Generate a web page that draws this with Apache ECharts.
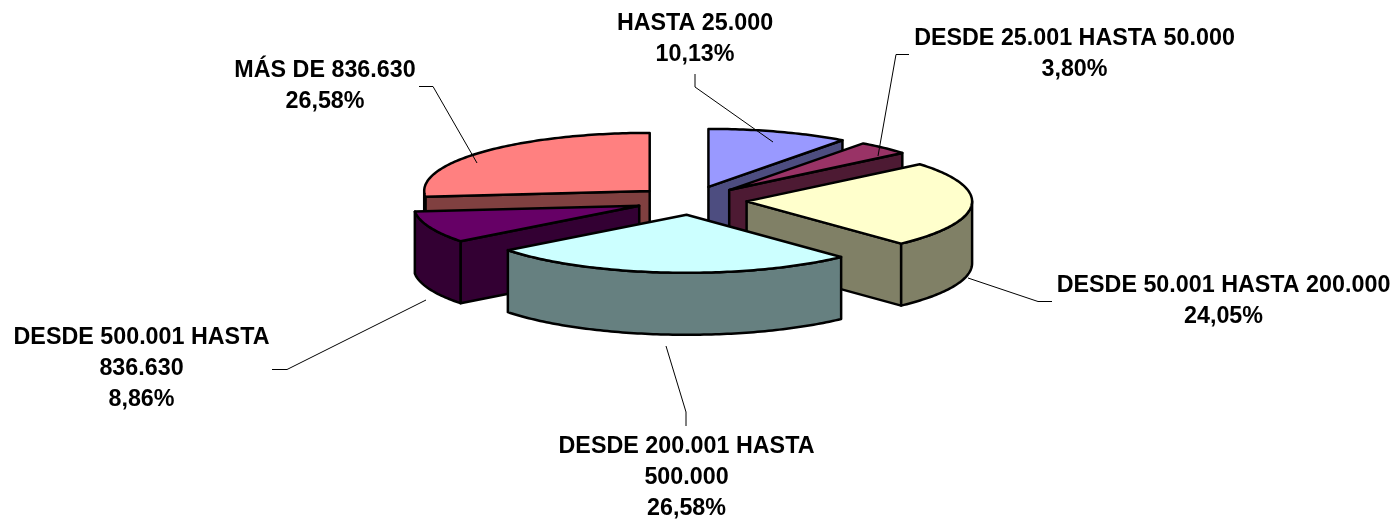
<!DOCTYPE html>
<html>
<head>
<meta charset="utf-8">
<style>
  html, body { margin: 0; padding: 0; background: #fff; }
  #chart { width: 1397px; height: 519px; }
</style>
</head>
<body>
<div id="chart"></div>
<script src="https://cdn.jsdelivr.net/npm/echarts@6/dist/echarts.min.js"></script>
<script>
const categories = [
  'HASTA 25.000',
  'DESDE 25.001 HASTA 50.000',
  'DESDE 50.001 HASTA 200.000',
  'DESDE 200.001 HASTA\n500.000',
  'DESDE 500.001 HASTA\n836.630',
  'MÁS DE 836.630'
]
const shares = [10.13, 3.80, 24.05, 26.58, 8.86, 26.58]
const topColors = ['#9999FF', '#993366', '#FFFFCC', '#CCFFFF', '#660066', '#FF8080']
const wallColors = ['#4D4D80', '#4D1A33', '#808066', '#668080', '#330033', '#804040']

// back to front
const paintOrder = [0, 1, 5, 4, 2, 3]

// label centre x, first line y, and leader line for each slice
const labelX = [695, 1074.5, 1223.5, 686.5, 141.5, 325]
const labelY = [23.5, 38.5, 285.5, 447, 338, 70.5]
const leaders = [
  [[695, 74], [695, 87], [773, 142]],
  [[909, 54.5], [896, 54.5], [878, 156]],
  [[1052, 301.5], [1038, 301.5], [968, 278]],
  [[686, 426], [686, 412], [666, 346]],
  [[272, 369.5], [287, 369.5], [426, 300]],
  [[419, 86.5], [433, 86.5], [477, 163]]
]

// pie geometry in pixels
const cx = 691
const cy = 200.5
const rx = 225.5
const ry = 58
const depth = 62
const explode = 0.247
const lineHeight = 31

const toRad = (deg) => deg * Math.PI / 180

let running = 0
const sliceAngles = shares.map((v) => {
  const start = running
  running += v
  return [start * 3.6, running * 3.6]
})

const pointAt = (ax, ay, deg, drop) => [
  ax + rx * Math.sin(toRad(deg)),
  ay - ry * Math.cos(toRad(deg)) + drop
]

const arcPoints = (ax, ay, from, to, drop) => {
  const pts = []
  const steps = Math.max(2, Math.ceil(Math.abs(to - from)))
  for (let i = 0; i <= steps; i++) {
    pts.push(pointAt(ax, ay, from + (to - from) * i / steps, drop))
  }
  return pts
}

const outline = { stroke: '#000', lineWidth: 2.5, lineJoin: 'round' }

const renderSlice = (params, api) => {
  const idx = api.value(0)
  const start = api.value(1)
  const end = api.value(2)
  const mid = toRad((start + end) / 2)
  const ax = cx + explode * rx * Math.sin(mid)
  const ay = cy - explode * ry * Math.cos(mid)
  const wallStyle = Object.assign({ fill: wallColors[idx] }, outline)
  const children = []

  const radialWall = (deg) => {
    const p = pointAt(ax, ay, deg, 0)
    const q = pointAt(ax, ay, deg, depth)
    children.push({
      type: 'polygon',
      shape: { points: [[ax, ay], p, q, [ax, ay + depth]] },
      style: wallStyle
    })
  }
  if (Math.sin(toRad(start)) < -0.001) radialWall(start)
  if (Math.sin(toRad(end)) > 0.001) radialWall(end)

  const wallFrom = Math.max(start, 90)
  const wallTo = Math.min(end, 270)
  if (wallTo > wallFrom) {
    const upper = arcPoints(ax, ay, wallFrom, wallTo, 0)
    const lower = arcPoints(ax, ay, wallTo, wallFrom, depth)
    children.push({
      type: 'polygon',
      shape: { points: upper.concat(lower) },
      style: wallStyle
    })
  }

  children.push({
    type: 'polygon',
    shape: { points: [[ax, ay]].concat(arcPoints(ax, ay, start, end, 0)) },
    style: Object.assign({ fill: topColors[idx] }, outline)
  })
  return { type: 'group', children: children }
}

const formatShare = (v) => v.toFixed(2).replace('.', ',') + '%'

const renderLabel = (params, api) => {
  const idx = api.value(0)
  const lines = categories[idx].split('\n').concat(formatShare(shares[idx]))
  const children = [{
    type: 'polyline',
    shape: { points: leaders[idx] },
    style: { stroke: '#000', lineWidth: 1, fill: null }
  }]
  lines.forEach((line, i) => {
    children.push({
      type: 'text',
      style: {
        text: line,
        x: labelX[idx],
        y: labelY[idx] + i * lineHeight,
        align: 'center',
        verticalAlign: 'middle',
        fill: '#000',
        font: 'bold 23.3px "Liberation Sans", Arial, sans-serif'
      }
    })
  })
  return { type: 'group', children: children }
}

const chart = echarts.init(document.getElementById('chart'), null, { renderer: 'canvas' })

chart.setOption({
  backgroundColor: '#fff',
  animation: false,
  series: [
    {
      type: 'custom',
      coordinateSystem: 'none',
      renderItem: renderSlice,
      silent: true,
      z: 2,
      data: paintOrder.map((i) => [i, sliceAngles[i][0], sliceAngles[i][1]])
    },
    {
      type: 'custom',
      coordinateSystem: 'none',
      renderItem: renderLabel,
      silent: true,
      z: 3,
      data: categories.map((c, i) => [i, shares[i]])
    }
  ]
})
</script>
</body>
</html>
